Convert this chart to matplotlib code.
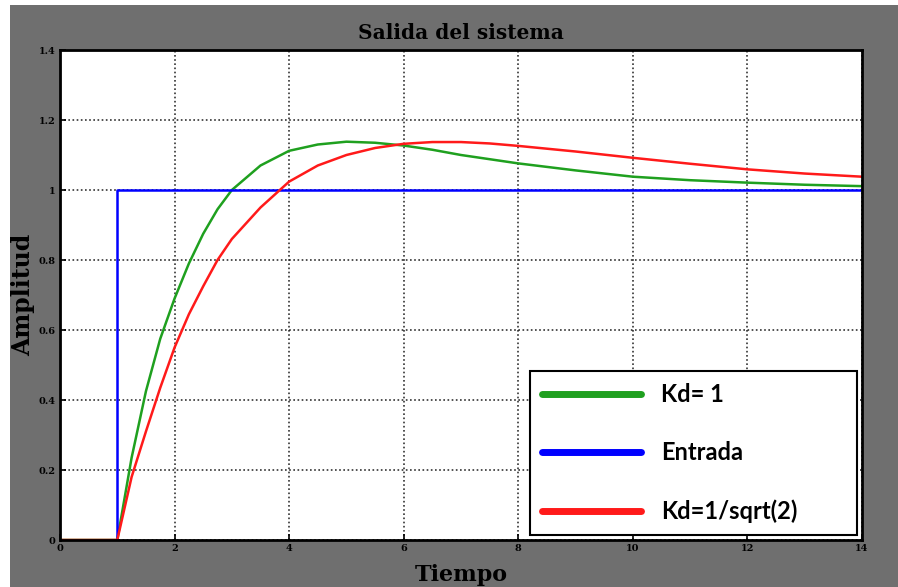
import matplotlib
matplotlib.use("Agg")
import matplotlib.pyplot as plt
from matplotlib.lines import Line2D
from matplotlib.patches import Rectangle

# time points (s)
tiempo = [0, 1, 1.25, 1.5, 1.75, 2, 2.25, 2.5, 2.75, 3, 3.5, 4, 4.5, 5, 5.5,
          6, 6.5, 7, 7.5, 8, 9, 10, 11, 12, 13, 14]

# respuesta con Kd = 1 (verde)
kd_uno = [0, 0, 0.235, 0.425, 0.575, 0.69, 0.79, 0.875, 0.945, 1.0, 1.07,
          1.112, 1.13, 1.138, 1.135, 1.127, 1.115, 1.10, 1.088, 1.076, 1.056,
          1.038, 1.028, 1.021, 1.015, 1.011]

# respuesta con Kd = 1/sqrt(2) (rojo)
kd_raiz = [0, 0, 0.18, 0.31, 0.435, 0.55, 0.645, 0.725, 0.80, 0.86, 0.95,
           1.024, 1.07, 1.10, 1.12, 1.132, 1.137, 1.137, 1.133, 1.126, 1.11,
           1.092, 1.075, 1.059, 1.047, 1.038]

# entrada escalon en t = 1
t_entrada = [0, 1, 1, 14]
entrada = [0, 0, 1, 1]

xticks = [0, 2, 4, 6, 8, 10, 12, 14]
yticks = [0, 0.2, 0.4, 0.6, 0.8, 1.0, 1.2, 1.4]
ylabels = ['0', '0.2', '0.4', '0.6', '0.8', '1', '1.2', '1.4']

serif = 'DejaVu Serif'

fig = plt.figure(figsize=(8.98, 5.87), dpi=100, facecolor='white')
# gray matlab-like background, leaving a thin white margin left/top
fig.patches.append(Rectangle((10 / 898, 0), 1, 1 - 5 / 587, transform=fig.transFigure,
                             facecolor='#6f6f6f', edgecolor='none', zorder=-1))

ax = fig.add_axes([60 / 898, 47 / 587, 802 / 898, 490 / 587])
ax.set_facecolor('white')

ax.plot(tiempo, kd_uno, color='#1fa01f', lw=1.8)
ax.plot(t_entrada, entrada, color='#0000ff', lw=1.8)
ax.plot(tiempo, kd_raiz, color='#ff1a1a', lw=1.8)

ax.set_xlim(0, 14)
ax.set_ylim(0, 1.4)
ax.set_xticks(xticks)
ax.set_xticklabels([str(x) for x in xticks])
ax.set_yticks(yticks)
ax.set_yticklabels(ylabels)
ax.tick_params(direction='in', length=4, width=1.2, labelsize=7, pad=3)
for lab in ax.get_xticklabels() + ax.get_yticklabels():
    lab.set_fontfamily(serif)
    lab.set_fontweight('bold')

ax.grid(True, color='black', linestyle=(0, (1, 1.5)), lw=1.2, alpha=0.8)
for s in ax.spines.values():
    s.set_linewidth(2)
    s.set_color('black')

ax.set_title('Salida del sistema', fontfamily=serif, fontweight='bold',
             fontsize=14.5, pad=8)
ax.set_xlabel('Tiempo', fontfamily=serif, fontweight='bold', fontsize=16, labelpad=8)
ax.set_ylabel('Amplitud', fontfamily=serif, fontweight='bold', fontsize=17, labelpad=3)

handles = [Line2D([], [], color='#1fa01f', lw=5, solid_capstyle='round'),
           Line2D([], [], color='#0000ff', lw=5, solid_capstyle='round'),
           Line2D([], [], color='#ff1a1a', lw=5, solid_capstyle='round')]
labels = ['Kd= 1', 'Entrada', 'Kd=1/sqrt(2)']
leg = ax.legend(handles, labels, loc='lower left', mode='expand',
                bbox_to_anchor=(0.586, 0.0102, 0.408, 0.34),
                prop={'family': 'Lato', 'weight': 'bold', 'size': 17},
                handlelength=4.2, handletextpad=0.85, labelspacing=1.5,
                borderpad=0.5, borderaxespad=0, fancybox=False, framealpha=1,
                edgecolor='black')
leg.get_frame().set_linewidth(1.5)

fig.savefig('out.png', dpi=100)
